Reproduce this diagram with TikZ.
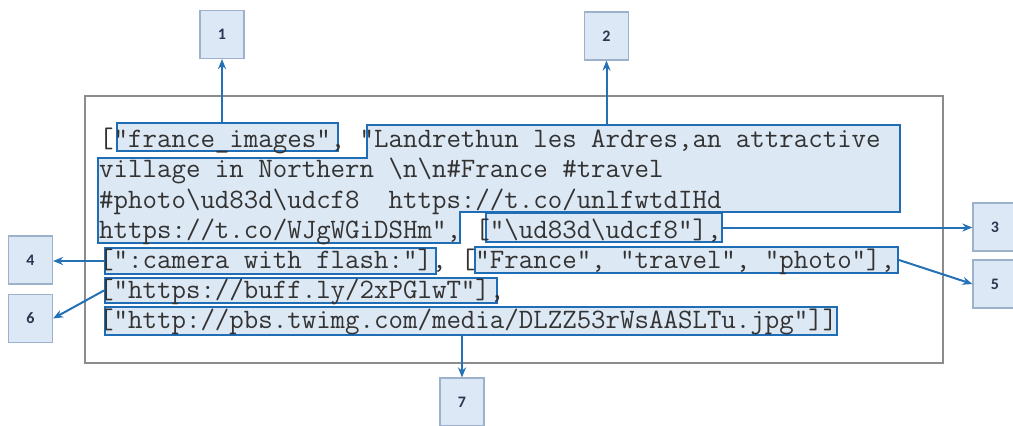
\documentclass[tikz,border=0pt]{standalone}
\usepackage{fontspec}
\newfontfamily\numfont{Carlito}
\usetikzlibrary{arrows.meta}
\definecolor{hlblue}{HTML}{1F6DB5}
\definecolor{hlfill}{HTML}{DCE8F4}
\definecolor{numborder}{HTML}{9DB2CA}
\definecolor{numfill}{HTML}{DDE8F6}
\definecolor{numtext}{HTML}{2B3550}
\definecolor{arrowblue}{HTML}{2471B6}
\definecolor{framegray}{HTML}{8C8C8C}
\definecolor{codetext}{HTML}{333333}
\newcommand\bs{\textbackslash}
\begin{document}
\begin{tikzpicture}[x=1bp,y=-1bp,
  frame/.style={draw=framegray, line width=2bp, fill=white, minimum width=858bp, minimum height=267bp, inner sep=0},
  hl/.style={draw=hlblue, fill=hlfill, line width=2bp, inner sep=0, rectangle},
  hlpath/.style={draw=hlblue, fill=hlfill, line width=2bp},
  code/.style={inner sep=0, anchor=base west, text=codetext,
    font=\ttfamily\fontsize{28.1bp}{30bp}\selectfont},
  numbox/.style={draw=numborder, fill=numfill, line width=1.2bp, minimum width=44bp, minimum height=48bp, inner sep=0,
    text=numtext, font=\numfont\bfseries\fontsize{16bp}{18bp}\selectfont},
  arr/.style={draw=arrowblue, line width=2bp, -{Stealth[length=10bp,width=8bp]}}
]
\fill[white] (0,0) rectangle (1013,425);
\useasboundingbox (0,0) rectangle (1013,425);
\node[frame] (frame) at (514,229.5) {};
% highlight boxes
\node[hl, minimum width=221bp, minimum height=28bp] (hA) at (227.5,137) {};
\coordinate (bTop) at (367,125);
\draw[hlpath] (bTop) -- (900,125) -- (900,212) -- (460,212) -- (460,243) -- (98,243) -- (98,158) -- (367,158) -- cycle;
\node[hl, minimum width=236bp, minimum height=29bp] (hC) at (604,227.5) {};
\node[hl, minimum width=331bp, minimum height=26bp] (hD) at (270.5,261) {};
\node[hl, minimum width=423bp, minimum height=26bp] (hE) at (686.5,260) {};
\node[hl, minimum width=392bp, minimum height=25bp] (hF) at (301,290.5) {};
\node[hl, minimum width=732bp, minimum height=28bp] (hG) at (471,321) {};
% code text
\node[code] (l1) at (99,147) {["france\_images", "Landrethun les Ardres,an attractive};
\node[code] (l2) at (99,177) {village in Northern \bs n\bs n\#France \#travel};
\node[code] (l3) at (99,208) {\#photo\bs ud83d\bs udcf8\ \ https://t.co/unlfwtdIHd};
\node[code] (l4) at (99,238) {https://t.co/WJgWGiDSHm", ["\bs ud83d\bs udcf8"],};
\node[code] (l5) at (99,268) {[":camera with flash:"], ["France", "travel", "photo"],};
\node[code] (l6) at (99,298) {["https://buff.ly/2xPGlwT"],};
\node[code] (l7) at (99,328) {["http://pbs.twimg.com/media/DLZZ53rWsAASLTu.jpg"]]};
% number boxes
\node[numbox] (n1) at (222,34.5) {1};
\node[numbox] (n2) at (606.5,36) {2};
\node[numbox] (n3) at (995,227) {3};
\node[numbox] (n5) at (995,284) {5};
\node[numbox] (n4) at (30.5,260) {4};
\node[numbox] (n6) at (30.5,318.5) {6};
\node[numbox] (n7) at (462,402) {7};
% arrows
\draw[arr] (hA.north -| n1.south) -- (n1.south);
\draw[arr] (n2.south |- bTop) -- (n2.south);
\draw[arr] (hC.east) -- (hC.east -| n3.west);
\draw[arr] (hD.west) -- (hD.west -| n4.east);
\draw[arr] (hE.east) -- (n5.west);
\draw[arr] (hF.west) -- (n6.east);
\draw[arr] (hG.south -| n7.north) -- (n7.north);
\end{tikzpicture}
\end{document}
